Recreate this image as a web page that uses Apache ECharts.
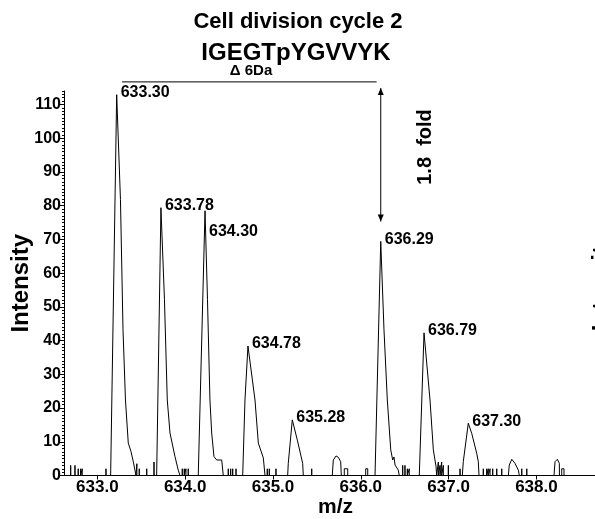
<!DOCTYPE html>
<html><head><meta charset="utf-8">
<script src="https://cdn.jsdelivr.net/npm/echarts@6/dist/echarts.min.js"></script>
<style>html,body{margin:0;padding:0;background:#fff}#c{width:595px;height:519px}</style>
</head><body><div id="c"></div>
<script>
// ---- data ----
const xTickValues = [633.0, 634.0, 635.0, 636.0, 637.0, 638.0];
const yTickValues = [0, 10, 20, 30, 40, 50, 60, 70, 80, 90, 100, 110];
const xRange = [632.62, 638.667];
const yRange = [0, 114];

// profile trace [m/z, intensity]
const profile = [
  [632.62,0],
  [632.696,0],[632.696,3.0],[632.696,0],
  [632.745,0],[632.745,3.0],[632.745,0],
  [632.782,0],[632.782,2.0],[632.782,0],
  [632.810,0],[632.810,2.0],[632.810,0],
  [632.828,0],[632.828,2.0],[632.828,0],
  [633.098,0],[633.098,2.0],[633.098,0],
  [633.151,0],[633.220,112.9],[633.263,81.8],[633.292,43.2],[633.320,22.4],[633.352,9.6],[633.383,7.1],[633.409,4.1],[633.440,0],
  [633.450,0],[633.450,3.5],[633.450,0],
  [633.477,0],[633.477,2.0],[633.477,0],
  [633.562,0],[633.562,2.0],[633.562,0],
  [633.645,0],[633.645,4.0],[633.645,0],
  [633.675,0],[633.724,79.4],[633.764,52.1],[633.796,22.4],[633.827,12.6],[633.884,5.6],[633.921,1.6],[633.941,0],
  [633.967,0],[633.967,2.0],[633.967,0],
  [633.990,0],[633.990,2.0],[633.990,0],
  [634.009,0],[634.009,2.0],[634.009,0],
  [634.035,0],[634.035,2.0],[634.035,0],
  [634.149,0],[634.226,78.5],[634.254,52.1],[634.282,22.4],[634.302,12.6],[634.328,5.6],[634.359,4.6],[634.416,4.6],[634.434,0],
  [634.491,0],[634.491,2.0],[634.491,0],
  [634.518,0],[634.518,2.0],[634.518,0],
  [634.541,0],[634.541,2.0],[634.541,0],
  [634.579,0],[634.579,2.0],[634.579,0],
  [634.655,0],[634.681,22.4],[634.715,38.4],[634.795,22.4],[634.833,9.6],[634.890,5.2],[634.909,0],
  [634.935,0],[634.935,2.0],[634.935,0],
  [634.958,0],[634.958,2.0],[634.958,0],
  [635.034,0],[635.034,2.0],[635.034,0],
  [635.167,0],[635.174,3.6],[635.220,16.5],[635.277,10.5],[635.338,3.6],[635.345,0],
  [635.441,0],[635.441,2.0],[635.441,0],
  [635.675,0],[635.687,4.6],[635.718,5.8],[635.744,5.4],[635.771,4.1],[635.778,0],
  [635.812,0],[635.812,2.0],[635.851,2.0],[635.851,0],
  [636.056,0],[636.056,2.0],[636.079,2.0],[636.079,0],
  [636.162,0],[636.227,69.4],[636.264,43.2],[636.302,22.4],[636.341,7.6],[636.363,4.6],[636.378,5.5],[636.390,3.1],[636.409,2.6],[636.427,1.6],[636.438,0],
  [636.477,0],[636.477,3.0],[636.477,0],
  [636.503,0],[636.503,3.0],[636.503,0],
  [636.530,0],[636.530,2.0],[636.530,0],
  [636.552,0],[636.552,2.0],[636.552,0],
  [636.666,0],[636.720,42.3],[636.788,22.4],[636.826,7.6],[636.857,2.6],[636.864,0],
  [636.883,0],[636.883,4.0],[636.883,0],
  [636.902,0],[636.902,3.0],[636.902,0],
  [636.921,0],[636.921,4.0],[636.921,0],
  [636.940,0],[636.940,3.0],[636.940,0],
  [636.997,0],[636.997,3.0],[636.997,0],
  [637.130,0],[637.130,2.0],[637.130,0],
  [637.156,0],[637.167,4.1],[637.224,15.5],[637.263,12.5],[637.320,6.6],[637.338,4.1],[637.346,0],
  [637.395,0],[637.395,2.0],[637.395,0],
  [637.434,0],[637.434,2.0],[637.434,0],
  [637.452,0],[637.452,2.0],[637.452,0],
  [637.472,0],[637.472,2.0],[637.472,0],
  [637.502,0],[637.502,2.0],[637.502,0],
  [637.548,0],[637.548,2.0],[637.548,0],
  [637.605,0],[637.605,2.0],[637.605,0],
  [637.680,0],[637.691,3.1],[637.719,4.8],[637.756,3.6],[637.794,1.6],[637.805,0],
  [637.833,0],[637.833,2.0],[637.833,0],
  [637.890,0],[637.890,2.0],[637.890,0],
  [638.200,0],[638.212,4.1],[638.238,4.8],[638.261,3.6],[638.262,0],
  [638.288,0],[638.288,2.0],[638.314,2.0],[638.314,0],
  [638.667,0]
];

// peak annotations
const peakMz        = [633.220, 633.724, 634.226, 634.715, 635.220, 636.227, 636.720, 637.224];
const peakIntensity = [112.9,   79.4,    78.5,    38.4,    16.5,    69.4,    42.3,    15.5];
const peakText      = ['633.30','633.78','634.30','634.78','635.28','636.29','636.79','637.30'];

// annotation values
const bracketMz = [633.28, 636.18];
const bracketLevel = 116.7;
const arrowMz = 636.227;
const arrowRange = [114.9, 75.3];
const titleLines = ['Cell division cycle 2', 'IGEGTpYGVVYK'];
const deltaText = '\u0394 6Da';
const foldText = '1.8  fold';
const xName = 'm/z';
const yName = 'Intensity';
const neighbourPanelName = 'Intensity';

// ---- chart ----
const FONT = '"Liberation Sans", Arial, Helvetica, sans-serif';
const labelOffsets = {'634.30':[0,21]};
const chart = echarts.init(document.getElementById('c'), null, {renderer:'canvas'});
const gridBox = {left:64, right:0, top:91, bottom:43.5, containLabel:false, outerBoundsMode:'none'};
chart.setOption({
  animation:false,
  backgroundColor:'#fff',
  grid:gridBox,
  xAxis:{
    type:'value', min:xRange[0], max:xRange[1],
    name:xName, nameLocation:'middle', nameGap:21, nameMoveOverlap:false,
    nameTextStyle:{fontFamily:FONT, fontWeight:'bold', fontSize:21, color:'#000', padding:[0,0,0,12]},
    axisLine:{show:true, onZero:false, lineStyle:{color:'#000', width:1}},
    axisTick:{show:true, customValues:xTickValues, length:4, lineStyle:{color:'#000'}},
    axisLabel:{customValues:xTickValues, formatter:v=>v.toFixed(1), fontFamily:FONT, fontWeight:'bold', fontSize:17, color:'#000', margin:3},
    splitLine:{show:false}
  },
  yAxis:[{
    type:'value', min:yRange[0], max:yRange[1],
    name:yName, nameLocation:'middle', nameGap:31, nameRotate:90, nameMoveOverlap:false,
    nameTextStyle:{fontFamily:FONT, fontWeight:'bold', fontSize:24, color:'#000'},
    axisLine:{show:true, lineStyle:{color:'#000', width:1}},
    axisTick:{show:true, customValues:yTickValues, length:4, lineStyle:{color:'#000'}},
    axisLabel:{customValues:yTickValues, fontFamily:FONT, fontWeight:'bold', fontSize:16, color:'#000', margin:3},
    splitLine:{show:false}
  },{
    type:'value', min:yRange[0], max:yRange[1], interval:1, position:'left',
    axisLine:{show:false}, axisLabel:{show:false}, splitLine:{show:false},
    axisTick:{show:true, length:2, lineStyle:{color:'#000', width:1}}
  }],
  series:[
    {type:'line', data:profile, showSymbol:false, symbol:'none', lineStyle:{color:'#000', width:1}, z:2},
    {type:'scatter', symbolSize:0, itemStyle:{opacity:1},
     data:peakMz.map((m,i)=>({value:[m, peakIntensity[i]], name:peakText[i],
        label:{offset: labelOffsets[peakText[i]] || [0,-2]}})),
     label:{show:true, position:'right', distance:4, formatter:p=>p.name, opacity:1,
        fontFamily:FONT, fontSize:16, fontWeight:'bold', color:'#000'}, z:3}
  ]
});

function px(m, v){ return chart.convertToPixel({gridIndex:0}, [m, v]); }
const b0 = px(bracketMz[0], bracketLevel), b1 = px(bracketMz[1], bracketLevel);
const a0 = px(arrowMz, arrowRange[0]), a1 = px(arrowMz, arrowRange[1]);
const ah = 7, aw = 3;
chart.setOption({graphic:[
  {type:'text', x:298, y:22, style:{text:titleLines[0], font:'bold 22px '+FONT, fill:'#000', textAlign:'center', textVerticalAlign:'middle'}},
  {type:'text', x:296, y:53, style:{text:titleLines[1], font:'bold 24px '+FONT, fill:'#000', textAlign:'center', textVerticalAlign:'middle'}},
  {type:'text', x:251, y:71, style:{text:deltaText, font:'bold 15px '+FONT, fill:'#000', textAlign:'center', textVerticalAlign:'middle'}},
  {type:'line', shape:{x1:b0[0], y1:b0[1], x2:b1[0], y2:b1[1]}, style:{stroke:'#000', lineWidth:1}},
  {type:'line', shape:{x1:a0[0], y1:a0[1], x2:a1[0], y2:a1[1]}, style:{stroke:'#000', lineWidth:1}},
  {type:'polygon', shape:{points:[[a0[0],a0[1]],[a0[0]-aw,a0[1]+ah],[a0[0]+aw,a0[1]+ah]]}, style:{fill:'#000'}},
  {type:'polygon', shape:{points:[[a1[0],a1[1]],[a1[0]-aw,a1[1]-ah],[a1[0]+aw,a1[1]-ah]]}, style:{fill:'#000'}},
  {type:'text', x:425, y:147, rotation:Math.PI/2, style:{text:foldText, font:'bold 20px '+FONT, fill:'#000', textAlign:'center', textVerticalAlign:'middle'}},
  {type:'text', x:602, y:282, rotation:Math.PI/2, style:{text:neighbourPanelName, font:'bold 24px '+FONT, fill:'#000', textAlign:'center', textVerticalAlign:'middle'}}
]});
</script>
</body></html>
